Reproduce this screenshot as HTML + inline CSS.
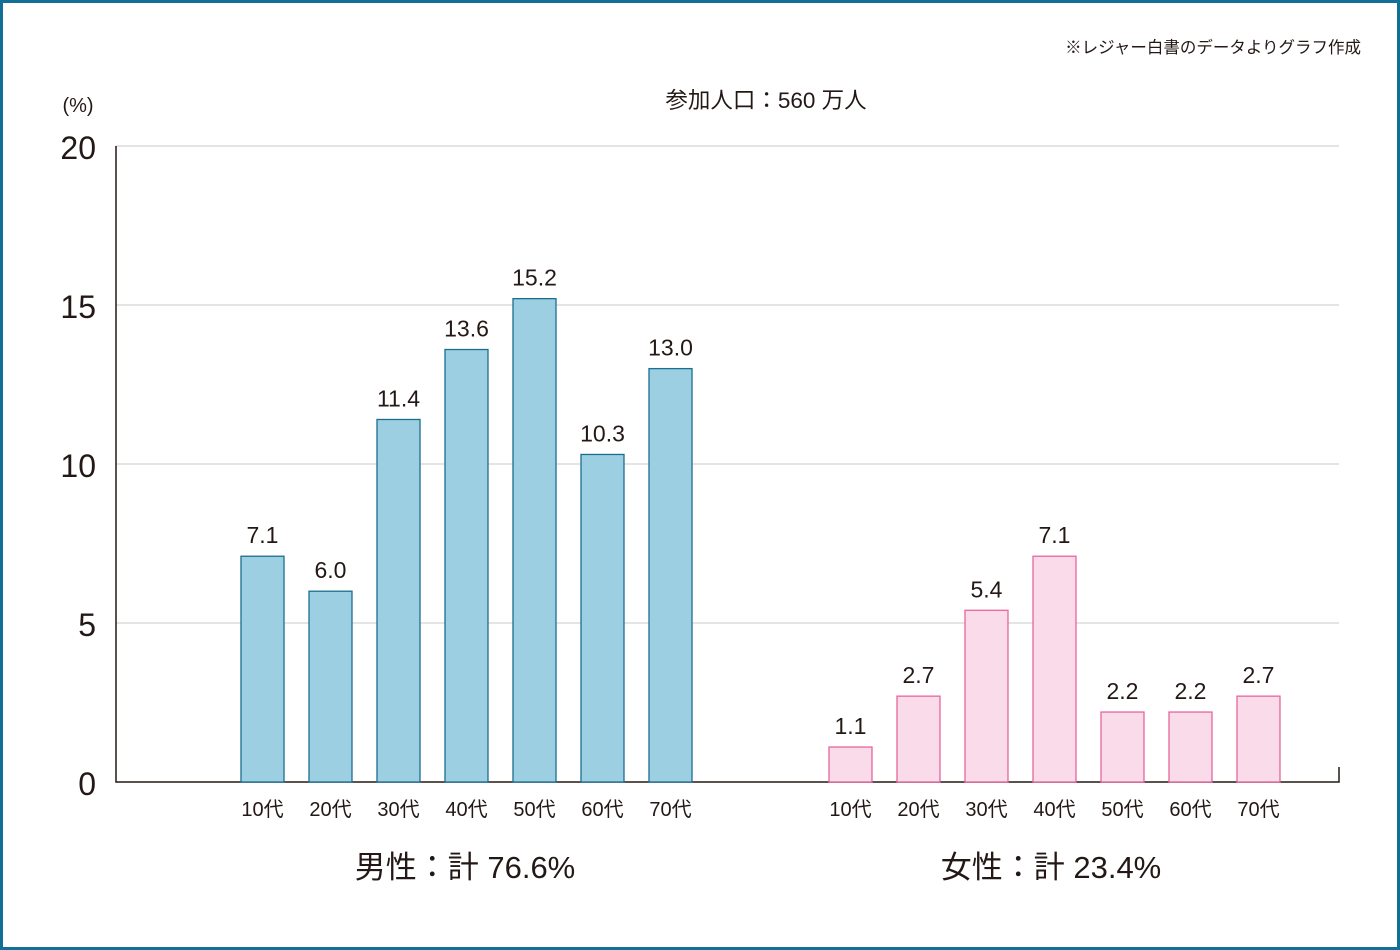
<!DOCTYPE html>
<html><head><meta charset="utf-8"><style>
html,body{margin:0;padding:0;background:#fff;}
#wrap{position:relative;width:1400px;height:950px;box-sizing:border-box;border:3px solid #136f95;background:#fff;overflow:hidden;}
svg{position:absolute;left:-3px;top:-3px;}
text{font-family:"Liberation Sans","Noto Sans CJK JP",sans-serif;fill:#231815;}
</style></head><body>
<div id="wrap">
<svg id="chart" width="1400" height="950"></svg>
</div>
<script>
const ageLabels=["10代","20代","30代","40代","50代","60代","70代"];
const maleValues=[7.1,6.0,11.4,13.6,15.2,10.3,13.0];
const femaleValues=[1.1,2.7,5.4,7.1,2.2,2.2,2.7];
const yTicks=[0,5,10,15,20];
const groupTitles=["男性：計 76.6%","女性：計 23.4%"];

const NS="http://www.w3.org/2000/svg";
const svg=document.getElementById('chart');
function mk(tag,attrs,txt){const e=document.createElementNS(NS,tag);for(const k in attrs)e.setAttribute(k,attrs[k]);if(txt!==undefined)e.textContent=txt;svg.appendChild(e);return e;}
const y0=782,yTop=146,yMax=20;
function yScale(v){return y0-(y0-yTop)*v/yMax;}
const xLeft=116,xRight=1339;

yTicks.forEach(t=>{
  const y=yScale(t);
  if(t>0){const g=mk('line',{x1:xLeft,x2:xRight,y1:y,y2:y,stroke:'#c9c9c9','stroke-width':1});
  
  }
  const l=mk('text',{x:96,y:y+13,'text-anchor':'end','font-size':32},String(t));
  
  
});
const ax=mk('path',{d:`M${xLeft} ${yTop}V${y0}H${xRight}V767`,fill:'none',stroke:'#231815','stroke-width':1.5});



function xBand(group,i){return (group===0?241:829)+i*68;}
const bw=43;
function drawSeries(vals,group,fill,stroke,name){
  vals.forEach((v,i)=>{
    const x=xBand(group,i),y=yScale(v);
    const r=mk('rect',{x:x,y:y,width:bw,height:y0-y,fill:fill,stroke:stroke,'stroke-width':1.3});
    
    
    const t=mk('text',{x:x+bw/2,y:y-13,'text-anchor':'middle','font-size':23},v.toFixed(1));
    
    
    const c=mk('text',{x:x+bw/2,y:816,'text-anchor':'middle','font-size':20},ageLabels[i]);
    
    
  });
}
drawSeries(maleValues,0,'#9ccfe1','#1b6e90','male');
drawSeries(femaleValues,1,'#fadbe9','#e8659f','female');

const g1=mk('text',{x:465,y:878,'text-anchor':'middle','font-size':31},groupTitles[0]);


const g2=mk('text',{x:1051,y:878,'text-anchor':'middle','font-size':31},groupTitles[1]);


const u=mk('text',{x:78,y:112,'text-anchor':'middle','font-size':20},'(%)');


const ti=mk('text',{x:766,y:108,'text-anchor':'middle','font-size':22.5},'参加人口：560 万人');


const src=mk('text',{x:1361,y:53,'text-anchor':'end','font-size':16.5},'※レジャー白書のデータよりグラフ作成');


</script>
</body></html>
